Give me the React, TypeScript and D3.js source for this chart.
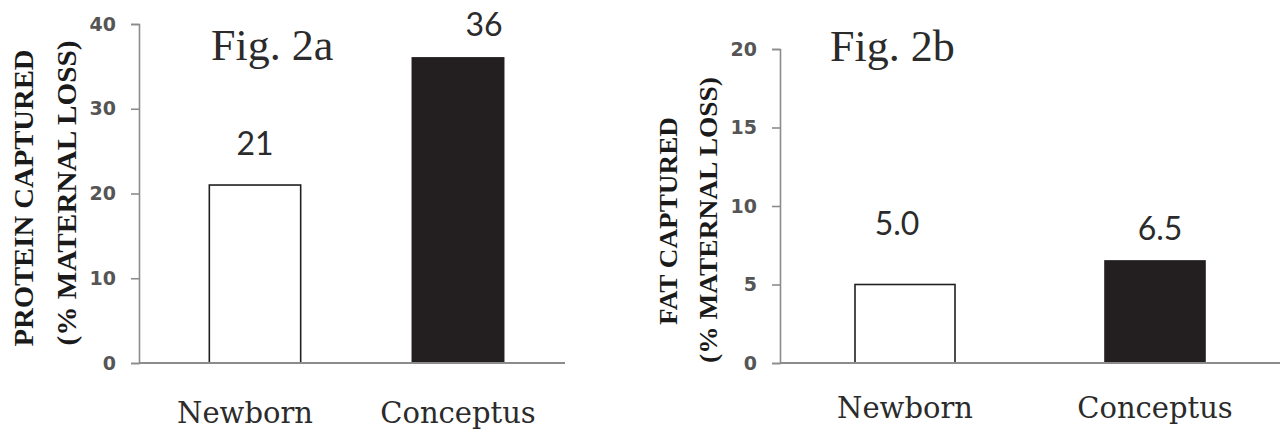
import { useEffect, useRef } from "react";
import * as d3 from "d3";

const categories = ["Newborn", "Conceptus"];
const proteinValues = [21, 36];
const proteinLabels = ["21", "36"];
const fatValues = [5.0, 6.5];
const fatLabels = ["5.0", "6.5"];
const proteinTicks = [0, 10, 20, 30, 40];
const fatTicks = [0, 5, 10, 15, 20];
const barFills = ["#ffffff", "#231f20"];

const SERIF = "'DejaVu Serif', serif";
const FIG = "'Liberation Serif', 'Times New Roman', serif";
const SANS = "Lato, 'Open Sans', sans-serif";

function drawPanel(svg, opts) {
  const g = svg.append("g");
  const y = d3.scaleLinear().domain(opts.domain).range([363, opts.top]);
  const x = d3
    .scaleBand()
    .domain(categories)
    .range(opts.bandRange)
    .paddingInner(opts.pad)
    .paddingOuter(opts.pad / 2);

  // y axis
  const yAxis = g
    .append("g")
    .attr("transform", `translate(${opts.axisX},0)`)
    .call(d3.axisLeft(y).tickValues(opts.ticks).tickSize(8).tickPadding(15));
  yAxis.attr("font-size", 19).attr("font-family", "'DejaVu Sans', Verdana, sans-serif");
  yAxis.select(".domain").attr("stroke", "#8c8c8c").attr("stroke-width", 1.6);
  yAxis.selectAll(".tick line").attr("stroke", "#8c8c8c").attr("stroke-width", 1.6);
  yAxis
    .selectAll(".tick text")
    .attr("fill", "#555555")
    .attr("font-weight", "bold")
    .style("font-size", "19px");

  // bars
  g.selectAll(".bar")
    .data(opts.values)
    .enter()
    .append("rect")
    .attr("x", (d, i) => x(categories[i]))
    .attr("y", (d) => y(d))
    .attr("width", x.bandwidth())
    .attr("height", (d) => y(0) - y(d))
    .attr("fill", (d, i) => barFills[i])
    .attr("stroke", "#231f20")
    .attr("stroke-width", 1.6);

  // x axis line
  g.append("line")
    .attr("x1", opts.axisX)
    .attr("x2", opts.axisEnd)
    .attr("y1", y(0))
    .attr("y2", y(0))
    .attr("stroke", "#8c8c8c")
    .attr("stroke-width", 2);

  // value labels
  g.selectAll(".val")
    .data(opts.values)
    .enter()
    .append("text")
    .attr("x", (d, i) => x(categories[i]) + x.bandwidth() / 2 + opts.labelDx[i])
    .attr("y", (d, i) => y(d) - opts.labelGap[i])
    .attr("text-anchor", "middle")
    .attr("font-family", SANS)
    .attr("font-size", 32)
    .attr("fill", "#2b2b2b")
    .text((d, i) => opts.labels[i]);

  // category labels
  g.selectAll(".cat")
    .data(categories)
    .enter()
    .append("text")
    .attr("x", (d, i) => x(d) + x.bandwidth() / 2 + opts.catDx[i])
    .attr("y", opts.catY)
    .attr("text-anchor", "middle")
    .attr("font-family", SERIF)
    .attr("font-size", 29)
    .attr("fill", "#2b2b2b")
    .text((d) => d);

  // figure title
  g.append("text")
    .attr("x", opts.figX)
    .attr("y", opts.figY)
    .attr("font-family", FIG)
    .attr("font-size", 44)
    .attr("fill", "#2b2b2b")
    .text(opts.fig);

  // y axis title, two lines
  opts.yTitle.forEach((t, i) => {
    g.append("text")
      .attr("transform", `translate(${opts.titleX[i]},${opts.titleY[i]}) rotate(-90)`)
      .attr("text-anchor", "middle")
      .attr("font-family", FIG)
      .attr("font-weight", "bold")
      .attr("font-size", opts.titleSize)
      .attr("textLength", opts.titleLen[i])
      .attr("lengthAdjust", "spacingAndGlyphs")
      .attr("fill", "#1a1a1a")
      .text(t);
  });
}

export default function App() {
  const ref = useRef(null);

  useEffect(() => {
    const svg = d3.select(ref.current);
    svg.selectAll("*").remove();

    drawPanel(svg, {
      domain: [0, 40],
      top: 24,
      ticks: proteinTicks,
      values: proteinValues,
      labels: proteinLabels,
      axisX: 139,
      axisEnd: 565,
      bandRange: [153.5, 559.5],
      pad: 0.55,
      labelGap: [30, 22],
      labelDx: [0, 26],
      catDx: [-10, 0],
      catY: 423,
      fig: "Fig. 2a",
      figX: 211,
      figY: 60,
      yTitle: ["PROTEIN CAPTURED", "(% MATERNAL LOSS)"],
      titleX: [33, 76],
      titleY: [198, 193],
      titleLen: [297, 305],
      titleSize: 27,
    });

    drawPanel(svg, {
      domain: [0, 20],
      top: 49,
      ticks: fatTicks,
      values: fatValues,
      labels: fatLabels,
      axisX: 780,
      axisEnd: 1280,
      bandRange: [780, 1280],
      pad: 0.6,
      labelGap: [50, 21],
      labelDx: [-8, 5],
      catDx: [0, 0],
      catY: 418,
      fig: "Fig. 2b",
      figX: 830,
      figY: 61,
      yTitle: ["FAT CAPTURED", "(% MATERNAL LOSS)"],
      titleX: [677, 717],
      titleY: [221, 220],
      titleLen: [208, 286],
      titleSize: 25,
    });
  }, []);

  return (
    <svg
      ref={ref}
      width={1283}
      height={434}
      style={{ position: "absolute", left: 0, top: 0, background: "#fff" }}
    />
  );
}
